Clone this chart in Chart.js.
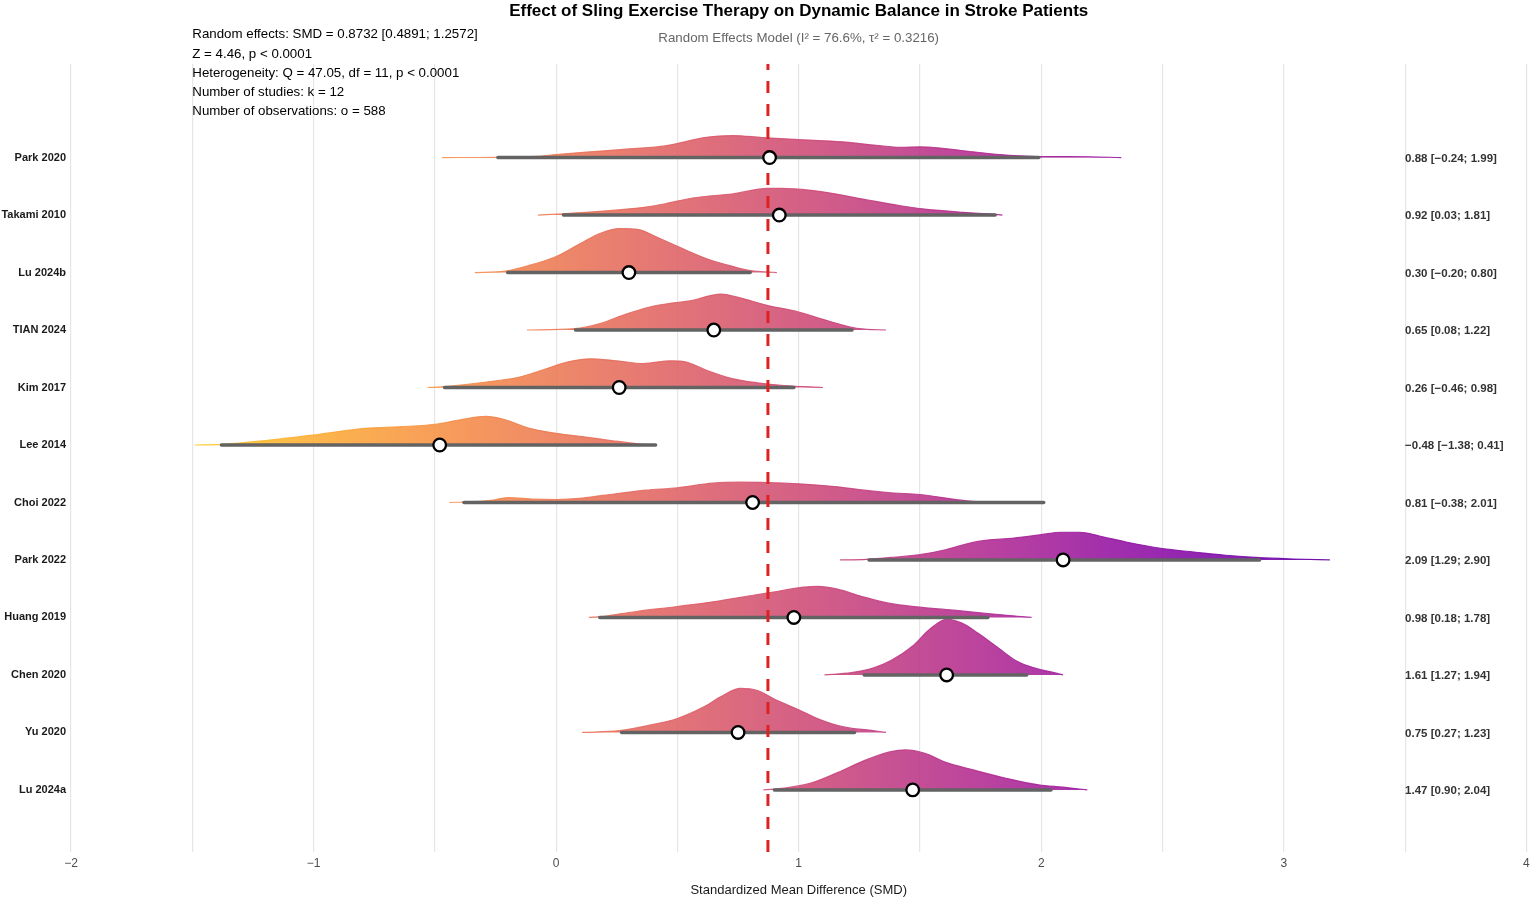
<!DOCTYPE html>
<html>
<head>
<meta charset="utf-8">
<title>Sling exercise therapy - dynamic balance</title>
<script src="https://cdn.jsdelivr.net/npm/chart.js@4.4.1/dist/chart.umd.min.js"></script>
<style>
  body { margin: 0; background: #ffffff; }
</style>
</head>
<body>
<canvas id="chart" width="1535" height="899"></canvas>
<script>
// studies, top to bottom
const studies = ["Park 2020", "Takami 2010", "Lu 2024b", "TIAN 2024", "Kim 2017", "Lee 2014",
                 "Choi 2022", "Park 2022", "Huang 2019", "Chen 2020", "Yu 2020", "Lu 2024a"];
const smd    = [0.88, 0.92, 0.30, 0.65, 0.26, -0.48, 0.81, 2.09, 0.98, 1.61, 0.75, 1.47];
const ciLow  = [-0.24, 0.03, -0.20, 0.08, -0.46, -1.38, -0.38, 1.29, 0.18, 1.27, 0.27, 0.90];
const ciHigh = [1.99, 1.81, 0.80, 1.22, 0.98, 0.41, 2.01, 2.90, 1.78, 1.94, 1.23, 2.04];

// pooled result
const pooledSMD = 0.8732;
const pooledLow = 0.4891;
const pooledHigh = 1.2572;
const zValue = 4.46;
const qValue = 47.05;
const dfValue = 11;
const nObs = 588;
const i2 = "76.6%";
const tau2 = 0.3216;

// x axis ticks
const xTicks = [-2, -1, 0, 1, 2, 3, 4];

// density curves (height as share of row spacing)
const park2020X = [-0.47, -0.25, -0.08, 0, 0.14, 0.30, 0.45, 0.53, 0.61, 0.73, 0.85, 1.00, 1.18, 1.32, 1.42, 1.50, 1.60, 1.72, 1.83, 1.91, 2.00, 2.19, 2.33];
const park2020H = [0, 0.005, 0.023, 0.052, 0.099, 0.151, 0.203, 0.273, 0.348, 0.383, 0.348, 0.313, 0.273, 0.214, 0.179, 0.186, 0.157, 0.099, 0.052, 0.030, 0.017, 0.014, 0];
const takamiX = [-0.075, 0.03, 0.18, 0.37, 0.45, 0.57, 0.73, 0.87, 0.93, 1.05, 1.16, 1.28, 1.42, 1.52, 1.68, 1.81, 1.84];
const takamiH = [0, 0.023, 0.064, 0.139, 0.197, 0.301, 0.370, 0.464, 0.464, 0.430, 0.360, 0.266, 0.162, 0.104, 0.047, 0.012, 0];
const lu2024bX = [-0.335, -0.21, -0.08, 0, 0.10, 0.18, 0.26, 0.34, 0.41, 0.53, 0.63, 0.73, 0.80, 0.91];
const lu2024bH = [0, 0.023, 0.162, 0.278, 0.504, 0.678, 0.765, 0.748, 0.626, 0.400, 0.226, 0.104, 0.035, 0];
const tianX = [-0.12, 0.075, 0.185, 0.28, 0.39, 0.47, 0.555, 0.64, 0.68, 0.75, 0.87, 1.00, 1.10, 1.185, 1.25, 1.36];
const tianH = [0, 0.023, 0.117, 0.266, 0.405, 0.464, 0.510, 0.603, 0.626, 0.569, 0.430, 0.313, 0.186, 0.082, 0.023, 0];
const kimX = [-0.53, -0.47, -0.295, -0.16, -0.05, 0.05, 0.14, 0.25, 0.36, 0.47, 0.54, 0.62, 0.73, 0.83, 0.94, 1.10];
const kimH = [0, 0.012, 0.092, 0.174, 0.313, 0.447, 0.499, 0.464, 0.417, 0.464, 0.440, 0.301, 0.151, 0.082, 0.035, 0];
const leeX = [-1.49, -1.38, -1.19, -1.00, -0.785, -0.64, -0.49, -0.38, -0.29, -0.22, -0.11, 0, 0.13, 0.24, 0.33, 0.39];
const leeH = [0, 0.012, 0.082, 0.174, 0.290, 0.318, 0.365, 0.452, 0.499, 0.452, 0.290, 0.203, 0.134, 0.070, 0.023, 0];
const choiX = [-0.44, -0.27, -0.20, -0.09, 0, 0.095, 0.20, 0.37, 0.50, 0.645, 0.755, 0.87, 1.00, 1.16, 1.27, 1.38, 1.50, 1.57, 1.67, 1.75, 1.90];
const choiH = [0, 0.035, 0.087, 0.057, 0.052, 0.070, 0.127, 0.214, 0.256, 0.336, 0.353, 0.348, 0.325, 0.273, 0.214, 0.169, 0.139, 0.099, 0.040, 0.010, 0];
const park2022X = [1.17, 1.28, 1.39, 1.50, 1.60, 1.69, 1.76, 1.86, 2.00, 2.08, 2.16, 2.24, 2.35, 2.50, 2.63, 2.76, 2.90, 3.04, 3.19];
const park2022H = [0, 0.012, 0.047, 0.092, 0.174, 0.278, 0.336, 0.370, 0.440, 0.482, 0.482, 0.417, 0.313, 0.197, 0.139, 0.082, 0.040, 0.017, 0];
const huangX = [0.135, 0.19, 0.33, 0.50, 0.676, 0.80, 0.91, 1.02, 1.08, 1.16, 1.26, 1.37, 1.50, 1.65, 1.79, 1.96];
const huangH = [0, 0.017, 0.104, 0.191, 0.290, 0.377, 0.452, 0.527, 0.539, 0.492, 0.365, 0.249, 0.179, 0.122, 0.064, 0];
const chenX = [1.106, 1.217, 1.30, 1.38, 1.47, 1.54, 1.61, 1.675, 1.74, 1.83, 1.90, 1.97, 2.04, 2.09];
const chenH = [0, 0.040, 0.110, 0.249, 0.504, 0.795, 0.969, 0.899, 0.725, 0.447, 0.238, 0.122, 0.052, 0];
const yuX = [0.107, 0.26, 0.40, 0.50, 0.607, 0.676, 0.76, 0.83, 0.91, 1.00, 1.09, 1.19, 1.30, 1.36];
const yuH = [0, 0.030, 0.139, 0.243, 0.440, 0.614, 0.765, 0.730, 0.557, 0.395, 0.221, 0.092, 0.035, 0];
const lu2024aX = [0.854, 0.94, 1.05, 1.16, 1.27, 1.38, 1.44, 1.52, 1.61, 1.72, 1.855, 1.99, 2.09, 2.19];
const lu2024aH = [0, 0.030, 0.117, 0.301, 0.510, 0.666, 0.696, 0.638, 0.475, 0.348, 0.203, 0.087, 0.047, 0];

const densX = [park2020X, takamiX, lu2024bX, tianX, kimX, leeX, choiX, park2022X, huangX, chenX, yuX, lu2024aX];
const densH = [park2020H, takamiH, lu2024bH, tianH, kimH, leeH, choiH, park2022H, huangH, chenH, yuH, lu2024aH];

const Y_MIN = -0.08, Y_MAX = 13.63;
const FONT = "'Liberation Sans', Arial, Helvetica, sans-serif";
Chart.defaults.font.family = FONT;

function row(i) { return studies.length - i; }
function fmt(v) { return (v < 0 ? "\u2212" : "") + Math.abs(v).toFixed(2); }

// plasma colours for the fill gradient
const plasma = ["#0d0887", "#41049d", "#6a00a8", "#8f0da4", "#b12a90", "#cc4778",
                "#e16462", "#f2844b", "#fca636", "#fcce25", "#f0f921"];
function hex(c) { return [1, 3, 5].map(k => parseInt(c.substr(k, 2), 16)); }
function plasmaAt(t, alpha) {
    t = Math.max(0, Math.min(1, t)) * 10;
    let k = Math.min(9, Math.floor(t)), f = t - k;
    let a = hex(plasma[k]), b = hex(plasma[k + 1]);
    let c = a.map((v, j) => Math.round(v + (b[j] - v) * f));
    return "rgba(" + c.join(",") + "," + alpha + ")";
}

let gradCache = null;
function fillGradient(ctx) {
    const chart = ctx.chart;
    if (!chart.chartArea) return "#cc4778";
    const w = chart.chartArea.right - chart.chartArea.left;
    if (gradCache && gradCache.w === w) return gradCache.g;
    const x = chart.scales.x;
    const x0 = x.getPixelForValue(-1.5), x1 = x.getPixelForValue(3.2);
    const g = chart.ctx.createLinearGradient(x0, 0, x1, 0);
    for (let s = 0; s <= 20; s++) {
        g.addColorStop(s / 20, plasmaAt(0.89 - 0.71 * s / 20, 0.88));
    }
    gradCache = { w: w, g: g };
    return g;
}

const datasets = [];
studies.forEach((s, i) => {
    datasets.push({
        label: s + " density",
        data: densX[i].map((x, j) => ({ x: x, y: row(i) + densH[i][j] })),
        showLine: true,
        fill: { value: row(i) },
        backgroundColor: fillGradient,
        borderColor: fillGradient,
        borderWidth: 1.2,
        pointRadius: 0,
        cubicInterpolationMode: "monotone",
        order: 10 + row(i)
    });
    datasets.push({
        label: s + " CI",
        data: [{ x: ciLow[i], y: row(i) }, { x: ciHigh[i], y: row(i) }],
        showLine: true,
        borderColor: "#636363",
        borderWidth: 3.5,
        borderCapStyle: "round",
        pointRadius: 0,
        order: 3
    });
});
datasets.push({
    label: "pooled",
    data: [{ x: pooledSMD, y: Y_MIN }, { x: pooledSMD, y: Y_MAX }],
    showLine: true,
    borderColor: "#dd2222",
    borderWidth: 3,
    borderDash: [12, 11],
    pointRadius: 0,
    order: 2
});
datasets.push({
    label: "SMD",
    data: smd.map((v, i) => ({ x: v, y: row(i) })),
    pointRadius: 6.3,
    pointBackgroundColor: "#ffffff",
    pointBorderColor: "#000000",
    pointBorderWidth: 2.3,
    order: 1
});

const textPlugin = {
    id: "texts",
    afterDraw(chart) {
        const ctx = chart.ctx, x = chart.scales.x, y = chart.scales.y;
        ctx.save();
        // estimate labels on the right
        ctx.font = "bold 11.5px " + FONT;
        ctx.fillStyle = "#333333";
        ctx.textAlign = "left";
        ctx.textBaseline = "middle";
        studies.forEach((s, i) => {
            ctx.fillText(fmt(smd[i]) + " [" + fmt(ciLow[i]) + "; " + fmt(ciHigh[i]) + "]",
                x.getPixelForValue(3.5), y.getPixelForValue(row(i)) + 1);
        });
        // summary block top left
        const lines = [
            "Random effects: SMD = " + pooledSMD.toFixed(4) + " [" + pooledLow.toFixed(4) + "; " + pooledHigh.toFixed(4) + "]",
            "Z = " + zValue.toFixed(2) + ", p < 0.0001",
            "Heterogeneity: Q = " + qValue.toFixed(2) + ", df = " + dfValue + ", p < 0.0001",
            "Number of studies: k = " + studies.length,
            "Number of observations: o = " + nObs
        ];
        ctx.font = "13.3px " + FONT;
        ctx.fillStyle = "#000000";
        const top = y.getPixelForValue(14.14);
        lines.forEach((t, k) => ctx.fillText(t, x.getPixelForValue(-1.5), top + k * 19.3));
        ctx.restore();
    }
};

new Chart(document.getElementById("chart"), {
    type: "scatter",
    data: { datasets: datasets },
    plugins: [textPlugin],
    options: {
        responsive: false,
        animation: false,
        layout: { padding: { left: 0, right: 5, top: 1, bottom: 0 } },
        plugins: {
            legend: { display: false },
            tooltip: { enabled: false },
            title: {
                display: true,
                fullSize: false,
                text: "Effect of Sling Exercise Therapy on Dynamic Balance in Stroke Patients",
                color: "#000000",
                font: { size: 17, weight: "bold" },
                padding: { top: 0, bottom: 9 }
            },
            subtitle: {
                display: true,
                fullSize: false,
                text: "Random Effects Model (I\u00b2 = " + i2 + ", \u03c4\u00b2 = " + tau2 + ")",
                color: "#666666",
                font: { size: 13.3 },
                padding: { top: 0, bottom: 17.5 }
            }
        },
        scales: {
            x: {
                type: "linear",
                min: -2,
                max: 4,
                afterFit(scale) {
                    scale.height = 47;
                    scale.paddingLeft = 0;
                    scale.paddingRight = 0;
                },
                ticks: {
                    stepSize: 0.5,
                    autoSkip: false,
                    maxRotation: 0,
                    padding: 4,
                    color: "#4d4d4d",
                    font: { size: 12 },
                    callback: v => xTicks.includes(v) ? (v < 0 ? "\u2212" + Math.abs(v) : String(v)) : ""
                },
                grid: { color: "#e6e6e6", lineWidth: 1.2, drawTicks: false },
                border: { display: false },
                title: {
                    display: true,
                    text: "Standardized Mean Difference (SMD)",
                    color: "#1a1a1a",
                    font: { size: 13 },
                    padding: { top: 0, bottom: 1 }
                }
            },
            y: {
                type: "linear",
                min: Y_MIN,
                max: Y_MAX,
                afterFit(scale) { scale.width = 71; },
                afterBuildTicks(scale) {
                    scale.ticks = studies.map((s, i) => ({ value: row(i) }));
                },
                ticks: {
                    autoSkip: false,
                    padding: 5,
                    color: "#1a1a1a",
                    font: { size: 11, weight: "bold" },
                    callback: v => studies[studies.length - v]
                },
                grid: { display: false, drawTicks: false },
                border: { display: false }
            }
        }
    }
});
</script>
</body>
</html>
